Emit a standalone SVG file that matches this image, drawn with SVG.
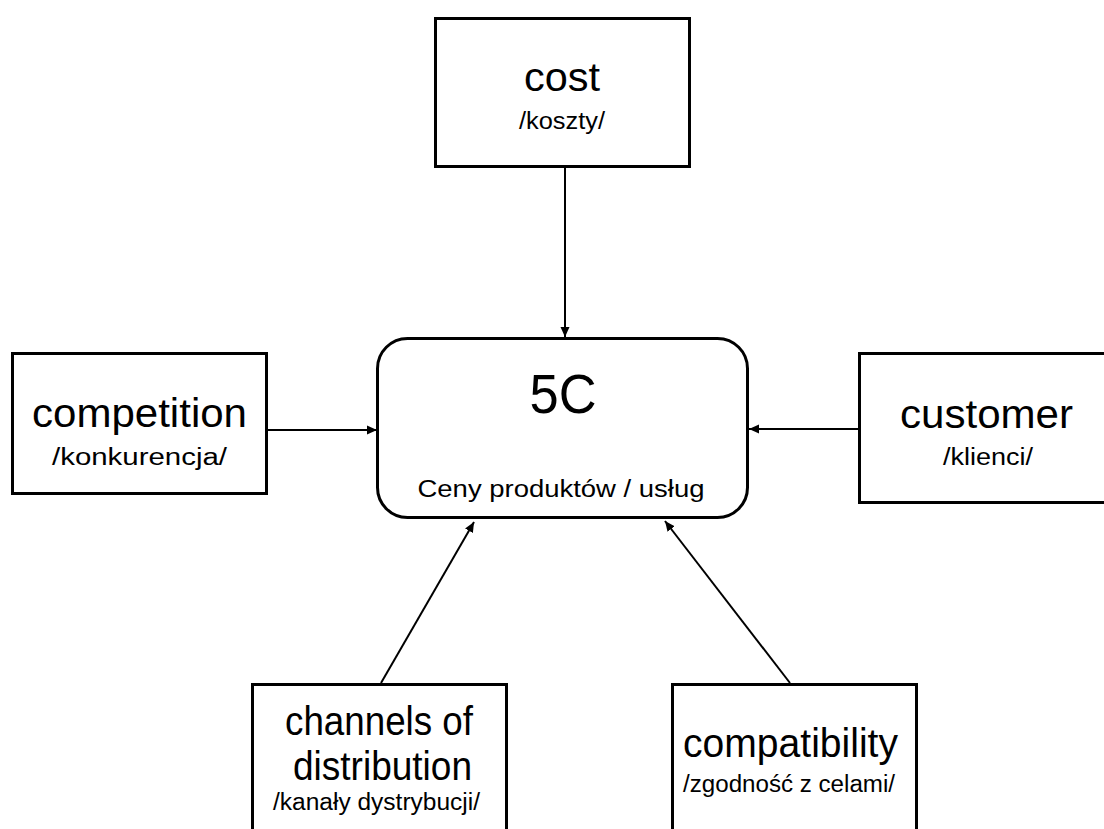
<svg xmlns="http://www.w3.org/2000/svg" width="1104" height="829" viewBox="0 0 1104 829">
<style>
.box{fill:#fff;stroke:#000;stroke-width:3}
.t{font-family:"Liberation Sans",Arial,sans-serif;fill:#000;text-anchor:middle}
.big{font-size:40px}
.small{font-size:23px}
.edge{stroke:#000;stroke-width:2;fill:none;marker-end:url(#ah)}
</style>
<defs>
<marker id="ah" markerUnits="userSpaceOnUse" markerWidth="12" markerHeight="10" refX="10" refY="5" orient="auto">
<path d="M0,0.5 L10,5 L0,9.5 Z" fill="#000"/>
</marker>
</defs>
<rect width="1104" height="829" fill="#fff"/>
<g id="connectors">
<line class="edge" x1="565" y1="167" x2="565" y2="337"/>
<line class="edge" x1="267" y1="430" x2="377" y2="430"/>
<line class="edge" x1="859" y1="429" x2="749" y2="429"/>
<line class="edge" x1="381" y1="683" x2="474" y2="522"/>
<line class="edge" x1="790" y1="683" x2="665" y2="521"/>
</g>
<g id="center">
<rect class="box" x="377.5" y="338.5" width="370" height="179" rx="30" ry="30" stroke-width="2.5"/>
<text class="t" x="563" y="413" font-size="56" textLength="67" lengthAdjust="spacingAndGlyphs">5C</text>
<text class="t" x="561" y="497" font-size="23" textLength="287" lengthAdjust="spacingAndGlyphs">Ceny produktów / usług</text>
</g>
<g id="cost">
<rect class="box" x="435.5" y="18.5" width="254" height="148"/>
<text class="t big" x="562" y="91" textLength="76" lengthAdjust="spacingAndGlyphs">cost</text>
<text class="t small" x="562" y="129" textLength="86" lengthAdjust="spacingAndGlyphs">/koszty/</text>
</g>
<g id="competition">
<rect class="box" x="12.5" y="353.5" width="254" height="140"/>
<text class="t big" x="139.5" y="427" textLength="215" lengthAdjust="spacingAndGlyphs">competition</text>
<text class="t small" x="139.5" y="465" textLength="175" lengthAdjust="spacingAndGlyphs">/konkurencja/</text>
</g>
<g id="customer">
<rect class="box" x="859.5" y="353.5" width="250" height="149"/>
<text class="t big" x="986.5" y="428" textLength="173" lengthAdjust="spacingAndGlyphs">customer</text>
<text class="t small" x="988" y="465" textLength="90" lengthAdjust="spacingAndGlyphs">/klienci/</text>
</g>
<g id="channels">
<rect class="box" x="252.5" y="684.5" width="254" height="170"/>
<text class="t big" x="379" y="735" textLength="188" lengthAdjust="spacingAndGlyphs">channels of</text>
<text class="t big" x="382.5" y="780" textLength="179" lengthAdjust="spacingAndGlyphs">distribution</text>
<text class="t small" x="376.5" y="810" textLength="207" lengthAdjust="spacingAndGlyphs">/kanały dystrybucji/</text>
</g>
<g id="compatibility">
<rect class="box" x="672.5" y="684.5" width="244" height="170"/>
<text class="t big" x="790.5" y="757" textLength="215" lengthAdjust="spacingAndGlyphs">compatibility</text>
<text class="t small" x="789" y="792" textLength="212" lengthAdjust="spacingAndGlyphs">/zgodność z celami/</text>
</g>
</svg>
